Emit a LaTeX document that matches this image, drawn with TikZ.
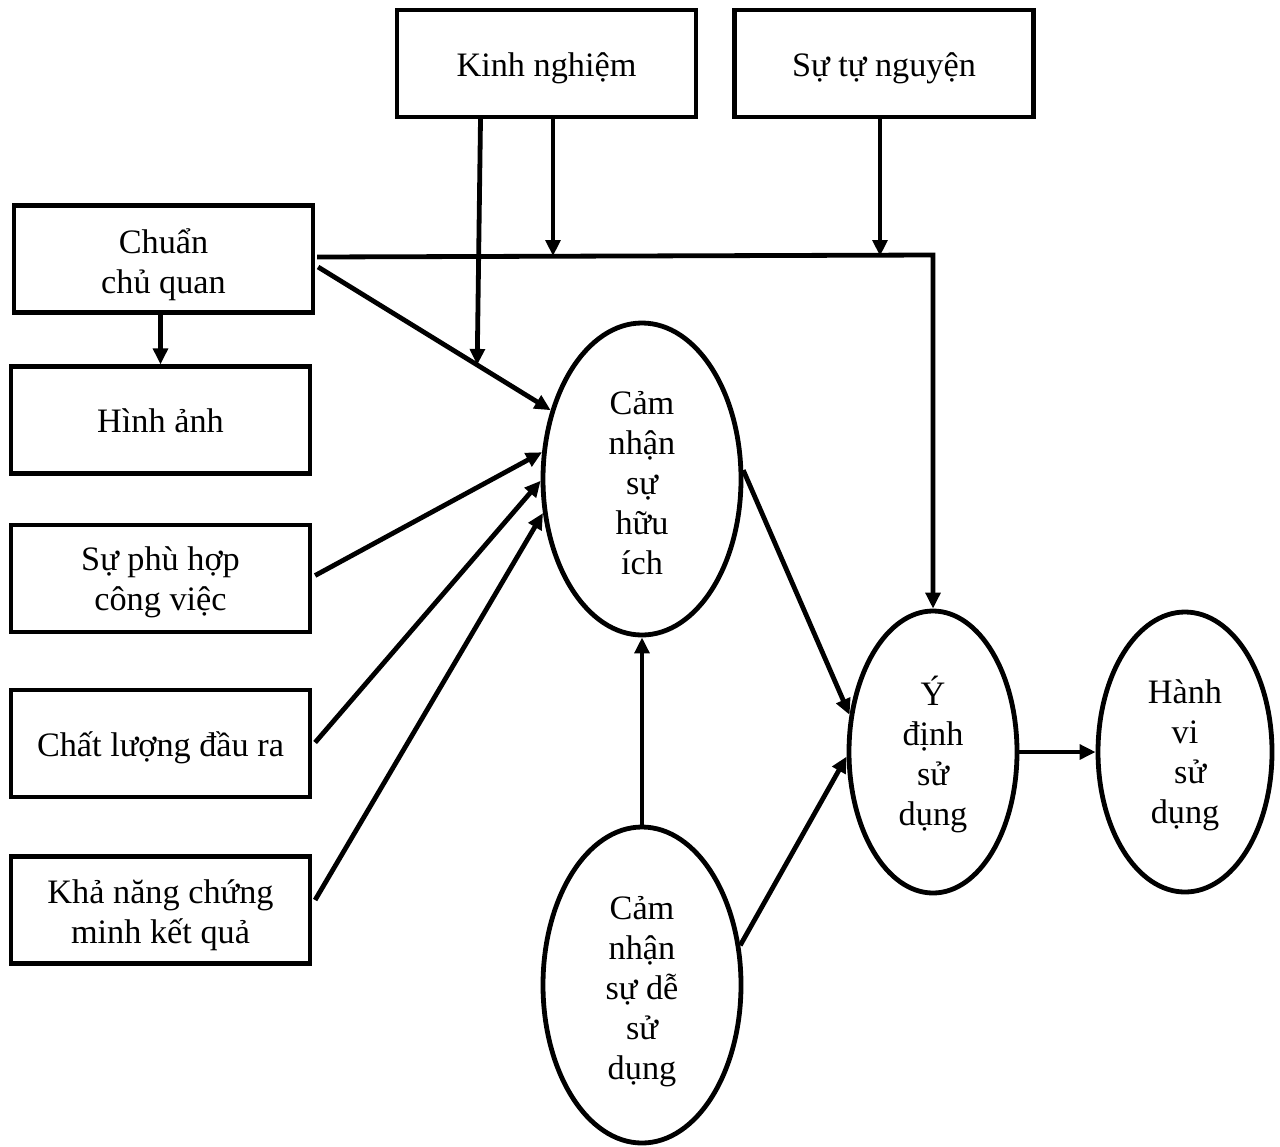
\documentclass[tikz,border=0pt]{standalone}
\usepackage{fontspec}
\setmainfont{Liberation Serif}
\usetikzlibrary{shapes.geometric,arrows.meta,calc}

% invisible strut that sets the height of the first line of a label
\newcommand\liftline[1]{\rule{0pt}{#1}}

\tikzset{
  % struts fixing label height and depth, so text sits at a chosen height in its frame
  strutup/.style={execute at begin node={\rule{0pt}{#1}}},
  strutdn/.style={execute at end node={\rule[-#1]{0pt}{#1}}},
  lbl/.style={font=\fontsize{25.7pt}{30pt}\selectfont, align=center, text=black,
              strutup=26pt, strutdn=7.2pt},
  box/.style={lbl, draw, line width=3.4pt, inner sep=0pt,
              minimum width=224pt, minimum height=80pt},
  oval/.style={lbl, draw, ellipse, line width=3.6pt, inner sep=0pt},
  link/.style={line width=3.6pt, -{Triangle[length=12pt,width=11pt]}},
}

\begin{document}
\begin{tikzpicture}[x=0.75pt, y=-0.75pt]
\useasboundingbox (0,0) rectangle (1280,1146);

% top moderators
\node[box] (kn) at (546.5,63.5) {Kinh nghiệm};
\node[box] (sn) at (884,63.5) {Sự tự nguyện};

% left-hand determinants
\node[box] (cc) at (163.5,259) {\liftline{29pt}Chuẩn\\chủ quan};
\node[box] (ha) at (160.5,420) {Hình ảnh};
\node[box] (ph) at (160.5,578.5) {\liftline{25.2pt}Sự phù hợp\\công việc};
\node[box] (cl) at (160.5,743.5) {Chất lượng đầu ra};
\node[box] (kq) at (160.5,910) {\liftline{26.8pt}Khả năng chứng\\minh kết quả};

% constructs
\node[oval, minimum width=148.5pt, minimum height=234pt]
  (hi) at (642,479) {\liftline{29.8pt}Cảm\\nhận\\sự\\hữu\\ích};
\node[oval, minimum width=148.5pt, minimum height=237pt]
  (de) at (642,985) {\liftline{28.3pt}Cảm\\nhận\\sự dễ\\sử\\dụng};
\node[oval, minimum width=126pt, minimum height=211.5pt]
  (yd) at (933,752) {\liftline{27.5pt}Ý\\định\\sử\\dụng};
\node[oval, minimum width=130.5pt, minimum height=210pt]
  (hv) at (1185,752) {\liftline{23.7pt}Hành\\vi\\\hspace*{0.3em}sử\\dụng};

% subjective norm -> intention (over the top)
\coordinate (ccR) at ($(cc.east)+(2,-2)$);
\coordinate (bend) at ($(yd.north|-cc.east)+(0,-4)$);
\draw[link] (ccR) -- (bend) -- (yd.north);

% moderators acting on that path
\coordinate (kn2) at ($(kn.south)+(6.5,0)$);
\coordinate (sn1) at ($(sn.south)+(-4,0)$);
\draw[link] (kn2) -- ($(kn2|-bend)+(0,1)$);
\draw[link] (sn1) -- ($(sn1|-bend)+(0,1)$);

% subjective norm -> perceived usefulness, moderated by experience
\coordinate (ccD) at ($(cc.east)+(3,8)$);
\draw[link] (ccD) -- (hi.143);
\coordinate (kn1) at ($(kn.south)+(-66,0)$);
\coordinate (hit) at ($(ccD)!0.684!(hi.143)$);
\draw[link] (kn1) -- (hit);

% subjective norm -> image
\draw[link] (ha.north|-cc.south) -- (ha.north);

% other determinants -> perceived usefulness
\draw[link] ($(ph.east)+(3,-3)$) -- (hi.165);
\draw[link] ($(cl.east)+(3,-1)$) -- (hi.181);
\draw[link] ($(kq.east)+(3,-10)$) -- (hi.199);

% core TAM paths
\draw[link] (hi.5) -- (yd.156);
\draw[link] (de.22) -- (yd.183);
\draw[link] (de.north) -- (hi.south);
\draw[link] (yd.east) -- (hv.west);
\end{tikzpicture}
\end{document}
